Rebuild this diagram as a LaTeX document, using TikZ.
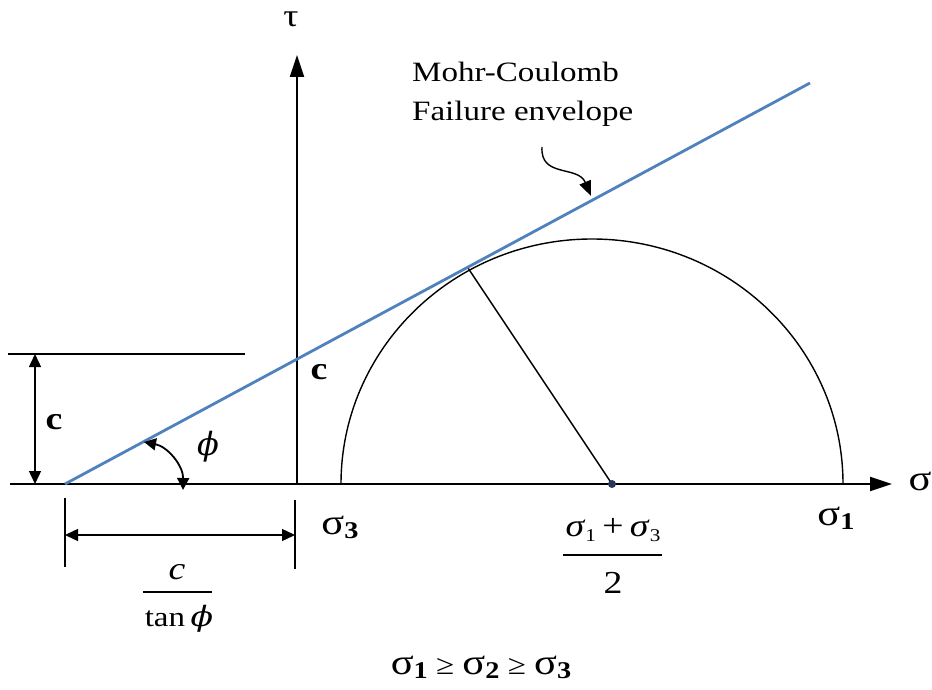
\documentclass[tikz,border=0pt]{standalone}
\usepackage{fontspec}
\setmainfont{Liberation Serif}
\newfontfamily\dvs{DejaVu Serif}
\usepackage{graphicx}
\usetikzlibrary{arrows.meta}
\definecolor{env}{RGB}{79,129,189}
\definecolor{dotc}{RGB}{40,55,90}
\newcommand\sx[1]{\scalebox{1.18}[1]{#1}}
\newcommand\sg[1]{{\fontsize{36}{40}\selectfont σ}\raisebox{-0.3ex}{\fontsize{24}{24}\selectfont\bfseries #1}}
\newcommand\isg[1]{\textit{σ}\raisebox{-0.35ex}{\fontsize{18}{18}\selectfont #1}}
\newcommand\myphi{{\dvs\itshape ϕ}}
\begin{document}
\begin{tikzpicture}[x=1pt,y=-1pt,
  txt/.style={inner sep=0pt, font=\fontsize{28}{34}\selectfont},
  big/.style={inner sep=0pt, font=\fontsize{32}{36}\selectfont},
  ax/.style={line width=2pt, -{Triangle[length=22pt,width=14pt]}},
  dimarrow/.style={line width=1.4pt, {Triangle[length=13pt,width=12pt]}-{Triangle[length=13pt,width=12pt]}},
  thinline/.style={line width=1.4pt}]
\useasboundingbox (0,0) rectangle (932,690);
% axes
\coordinate (O) at (297,484);
\coordinate (xs) at (10,484);
\coordinate (xe) at (892,484);
\coordinate (ye) at (297,55);
\draw[ax] (xs) -- (xe);
\draw[ax] (O) -- (ye);
% Mohr circle
\draw[thinline] (341,484) arc[start angle=180,end angle=360,x radius=251,y radius=245];
\coordinate (M) at (612,484);
\coordinate (T) at (468,268);
\draw[thinline] (M) -- (T);
\fill[dotc] (M) circle[radius=4pt];
% envelope
\coordinate (A) at (65,484);
\coordinate (B) at (810,83);
\draw[env, line width=2.8pt] (A) -- (B);
% cohesion dimension
\coordinate (h1) at (8,354);
\coordinate (h2) at (245,354);
\draw[thinline] (h1) -- (h2);
\coordinate (d1) at (35,354);
\coordinate (d2) at (35,484);
\draw[dimarrow] (d1) -- (d2);
% c/tan phi dimension
\coordinate (t1a) at (65,498);
\coordinate (t1b) at (65,567);
\coordinate (t2a) at (295,500);
\coordinate (t2b) at (295,569);
\draw[thinline] (t1a) -- (t1b);
\draw[thinline] (t2a) -- (t2b);
\coordinate (e1) at (65,535);
\coordinate (e2) at (295,535);
\draw[dimarrow] (e1) -- (e2);
% phi arc
\coordinate (p1) at (144,442);
\coordinate (p2) at (183,490);
\draw[line width=1.8pt, {Triangle[length=12pt,width=12pt]}-{Triangle[length=12pt,width=12pt]}] (p1) to[bend left=40] (p2);
% curvy pointer
\coordinate (q1) at (542,147);
\coordinate (q2) at (591,196);
\draw[line width=1.4pt, -{Triangle[length=15pt,width=12pt]}] (q1) .. controls (540,178) and (578,165) .. (q2);
% texts
\node[big] (tau) at (291,19) {\sx{τ}};
\node[inner sep=0pt, font=\fontsize{36}{40}\selectfont] (sig) at (920,481) {\sx{σ}};
\node[txt, anchor=base west] (mc1) at (412,82) {\sx{Mohr-Coulomb}};
\node[txt, anchor=base west] (mc2) at (412,121) {\sx{Failure envelope}};
\node[big] (c1) at (319,372) {\sx{\bfseries c}};
\node[big] (c2) at (54,422) {\sx{\bfseries c}};
\node[big] (phi) at (208,447) {\myphi};
\node[txt] (s3) at (340,527) {\sx{\sg{3}}};
\node[txt] (s1) at (836,518) {\sx{\sg{1}}};
\node[big] (num) at (613,530) {\sx{\isg{1}\,+\,\isg{3}}};
\coordinate (f1) at (563,555);
\coordinate (f2) at (662,555);
\draw[line width=1.6pt] (f1) -- (f2);
\node[big] (two) at (613,583) {\sx{2}};
\node[big] (cc) at (177,572) {\sx{\textit{c}}};
\coordinate (g1) at (143,592);
\coordinate (g2) at (212,592);
\draw[line width=1.6pt] (g1) -- (g2);
\node[txt] (tan) at (179,619) {\sx{tan\,\myphi}};
\node[txt] (ineq) at (481,667) {\sx{\sg{1} ≥ \sg{2} ≥ \sg{3}}};
\end{tikzpicture}
\end{document}
